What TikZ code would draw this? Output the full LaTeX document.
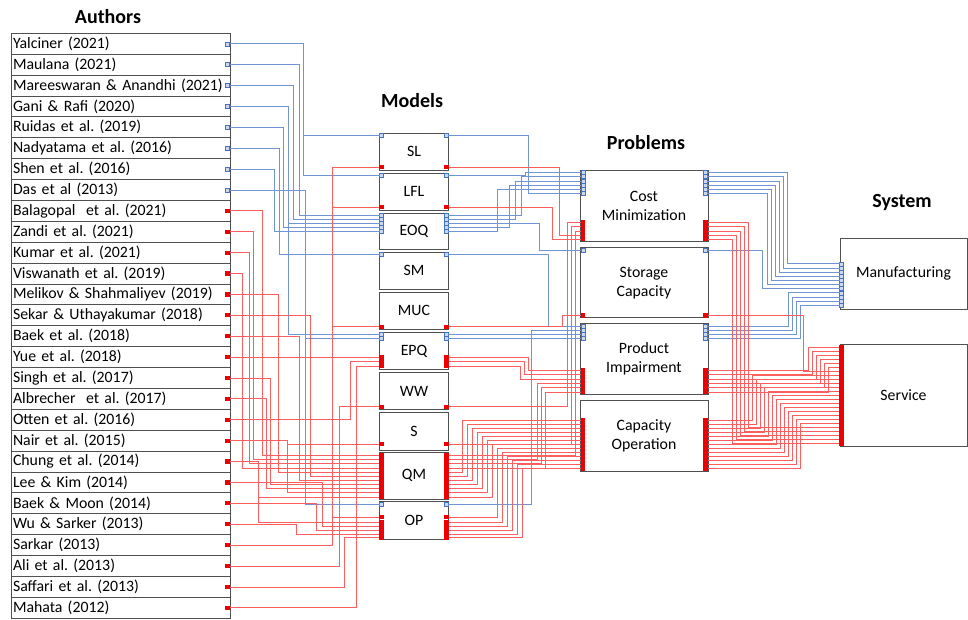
\documentclass[tikz,border=0pt]{standalone}
\usepackage{fontspec}
\setmainfont{Carlito}
\frenchspacing
\definecolor{boxline}{HTML}{505050}
\definecolor{bluewire}{HTML}{7095D4}
\definecolor{redwire}{HTML}{FF5E5E}
\definecolor{blueport}{HTML}{4472C4}
\definecolor{bluefill}{HTML}{C9D7F0}
\definecolor{redport}{HTML}{EE0000}
\tikzset{
  every node/.style={font=\fontsize{15.8}{19}\selectfont},
  heading/.style={font=\fontsize{20}{24}\selectfont\bfseries},
  authrow/.style={draw=boxline, line width=0.9pt, minimum height=20.89pt,
    text width=215pt, inner xsep=2pt, inner ysep=0pt, align=left},
  modelbox/.style={draw=boxline, line width=1pt, fill=white,
    minimum width=69.4pt, inner sep=0pt},
  probbox/.style={draw=boxline, line width=1pt, minimum width=128pt,
    minimum height=71pt, align=center, inner sep=0pt},
  sysbox/.style={draw=boxline, line width=1pt, minimum width=127pt, inner sep=0pt},
  bport/.style={draw=blueport, fill=bluefill, line width=0.5pt,
    minimum size=4pt, inner sep=0pt, outer sep=0pt},
  rport/.style={fill=redport, minimum width=4.6pt, minimum height=4.3pt,
    inner sep=0pt, outer sep=0pt},
  bw/.style={draw=bluewire, line width=0.8pt},
  rw/.style={draw=redwire, line width=0.8pt},
}
% orthogonal connector: start, vertical channel x, end
\newcommand\wireto[4]{\draw[#1] (#2) -| (#3,0 |- #4) -- (#4);}
% a pair of ports on the left and right edge of a model box
\newcommand\mpair[3]{\node[#1] (#2L) at (381.7,#3) {}; \node[#1] (#2R) at (446.3,#3) {};}
% a pair of ports on the left and right edge of a problem box
\newcommand\ppair[3]{\node[#1] (#2L) at (582.8,#3) {}; \node[#1] (#2R) at (705.3,#3) {};}

\begin{document}
\begin{tikzpicture}[x=1pt,y=-1pt]
\useasboundingbox (0,0) rectangle (968,619);

% headings
\node[heading] (hAuth) at (108,17) {Authors};
\node[heading] (hMod) at (412,101) {Models};
\node[heading] (hProb) at (646,143) {Problems};
\node[heading] (hSys) at (902,203) {System};

% authors column
\foreach \nm [count=\k from 0] in {Yalciner (2021), Maulana (2021),
  Mareeswaran \& Anandhi (2021), Gani \& Rafi (2020), Ruidas et al. (2019),
  Nadyatama et al. (2016), Shen et al. (2016), Das et al (2013),
  Balagopal~ et al. (2021), Zandi et al. (2021), Kumar et al. (2021),
  Viswanath et al. (2019), Melikov \& Shahmaliyev (2019),
  Sekar \& Uthayakumar (2018), Baek et al. (2018), Yue et al. (2018),
  Singh et al. (2017), Albrecher~ et al. (2017), Otten et al. (2016),
  Nair et al. (2015), Chung et al. (2014), Lee \& Kim (2014),
  Baek \& Moon (2014), Wu \& Sarker (2013), Sarkar (2013), Ali et al. (2013),
  Saffari et al. (2013), Mahata (2012)}{
  \pgfmathsetmacro\yc{43.75+20.89*\k}
  \node[authrow] (auth\k) at (120.5,\yc) {\nm};
  \ifnum\k<8
    \node[bport] (ap\k) at (227.5,\yc) {};
  \else
    \node[rport] (ap\k) at (227.5,\yc) {};
  \fi
}

% models
\foreach \nm/\yc/\h in {SL/151.5/37, LFL/191.5/37, EOQ/231/36, SM/270.5/37,
  MUC/310.5/37, EPQ/351.1/36.8, WW/391.3/37.3, S/431/38, QM/475.5/47, OP/520.8/38.3}
  \node[modelbox, minimum height=\h pt] (\nm) at (414,\yc) {\nm};

\mpair{bport}{SLb}{135} \mpair{rport}{SLr}{167.3}
\mpair{bport}{LFLb}{175} \mpair{rport}{LFLr}{207}
\foreach \i in {1,...,5} {\mpair{bport}{EOQb\i}{211+4*\i}}
\mpair{bport}{SMb}{254}
\mpair{rport}{MUCr}{326.7}
\mpair{bport}{EPQb1}{334.3} \mpair{bport}{EPQb2}{338.3}
\foreach \i in {1,2,3} {\mpair{rport}{EPQr\i}{353+4.3*\i}}
\mpair{rport}{WWr}{406.7}
\mpair{rport}{Sr}{444.3}
\foreach \i in {1,...,11} {\mpair{rport}{QMr\i}{451.35+4.15*\i}}
\mpair{bport}{OPb}{504.5}
\foreach \i/\y in {1/517.3,2/522.5,3/526.3,4/530.1,5/533.9,6/537.7} {\mpair{rport}{OPr\i}{\y}}

% problems
\node[probbox] (CM) at (644,206.2) {Cost\\Minimization};
\node[probbox, minimum height=70.3pt] (SC) at (644,282.8) {Storage\\Capacity};
\node[probbox] (PI) at (644,358.5) {Product\\Impairment};
\node[probbox] (CO) at (644,435.5) {Capacity\\Operation};

\foreach \i in {1,...,6} {\ppair{bport}{CMb\i}{168.3+4.2*\i}}
\foreach \i in {1,...,5} {\ppair{rport}{CMr\i}{218.3+4.2*\i}}
\ppair{bport}{SCb}{250.5} \ppair{rport}{SCr}{315.5}
\foreach \i in {1,...,4} {\ppair{bport}{PIb\i}{322+4*\i}}
\foreach \i in {1,...,6} {\ppair{rport}{PIr\i}{366.2+4.3*\i}}
\foreach \i in {1,...,13} {\ppair{rport}{COr\i}{416+4.05*\i}}

% systems
\node[sysbox, minimum height=71pt] (MF) at (903.5,273.5) {Manufacturing};
\node[sysbox, minimum height=102pt] (SV) at (903.5,395) {Service};
\foreach \j in {1,...,11} \node[bport] (MFp\j) at (841.5,{259.65+4.15*\j}) {};
\foreach \j in {1,...,25} \node[rport] (SVp\j) at (841.5,{342.97+4.03*\j}) {};

% authors to models, manufacturing studies
\wireto{bw}{ap0}{303}{SLbL}
\wireto{bw}{ap0}{303}{LFLbL}
\wireto{bw}{ap1}{299}{EOQb1L}
\wireto{bw}{ap2}{293}{EOQb2L}
\wireto{bw}{ap3}{288}{EOQb3L}
\wireto{bw}{ap3}{288}{EPQb1L}
\wireto{bw}{ap4}{283}{EOQb4L}
\wireto{bw}{ap5}{279}{SMbL}
\wireto{bw}{ap6}{274}{EOQb5L}
\wireto{bw}{ap7}{305}{EPQb2L}
\wireto{bw}{ap7}{305}{OPbL}

% models to problems, manufacturing studies
\wireto{bw}{SLbR}{528}{CMb6L}
\wireto{bw}{LFLbR}{525}{CMb1L}
\wireto{bw}{EOQb1R}{521}{CMb2L}
\wireto{bw}{EOQb2R}{515}{CMb3L}
\wireto{bw}{EOQb4R}{509}{CMb4L}
\wireto{bw}{EOQb5R}{497}{CMb5L}
\wireto{bw}{EOQb3R}{539}{SCbL}
\wireto{bw}{SMbR}{548}{PIb1L}
\wireto{bw}{OPbR}{531}{PIb2L}
\wireto{bw}{EPQb1R}{470}{PIb3L}
\wireto{bw}{EPQb2R}{475}{PIb4L}

% problems to manufacturing
\foreach \i/\cx in {1/787,2/783,3/779,4/775,5/771,6/767} {\wireto{bw}{CMb\i R}{\cx}{MFp\i}}
\wireto{bw}{SCbR}{762}{MFp7}
\foreach \i/\cx in {1/788,2/792,3/796,4/800} {\pgfmathtruncatemacro\mj{\i+7}\wireto{bw}{PIb\i R}{\cx}{MFp\mj}}

% authors to models, service studies
\wireto{rw}{ap8}{262}{QMr1L}
\wireto{rw}{ap9}{253}{QMr2L}
\wireto{rw}{ap10}{249}{QMr3L}
\wireto{rw}{ap11}{242}{QMr4L}
\wireto{rw}{ap12}{278}{QMr5L}
\wireto{rw}{ap13}{310}{QMr6L}
\wireto{rw}{ap14}{299}{QMr7L}
\wireto{rw}{ap15}{315}{EPQr1L}
\wireto{rw}{ap16}{270}{QMr8L}
\wireto{rw}{ap17}{266}{QMr9L}
\wireto{rw}{ap18}{350}{EPQr2L}
\wireto{rw}{ap19}{287}{SrL}
\wireto{rw}{ap19}{287}{QMr10L}
\wireto{rw}{ap20}{258}{QMr11L}
\wireto{rw}{ap20}{258}{OPr2L}
\wireto{rw}{ap21}{322}{OPr3L}
\wireto{rw}{ap22}{316}{OPr4L}
\wireto{rw}{ap23}{296}{OPr5L}
\wireto{rw}{ap24}{332}{SLrL}
\wireto{rw}{ap24}{332}{LFLrL}
\wireto{rw}{ap24}{332}{MUCrL}
\wireto{rw}{ap24}{332}{OPr1L}
\wireto{rw}{ap25}{339}{WWrL}
\wireto{rw}{ap26}{344}{OPr6L}
\wireto{rw}{ap27}{356}{EPQr3L}

% models to problems, service studies
\wireto{rw}{SLrR}{559}{CMr4L}
\wireto{rw}{LFLrR}{552}{CMr5L}
\wireto{rw}{WWrR}{567}{CMr1L}
\wireto{rw}{SrR}{571}{CMr2L}
\wireto{rw}{QMr1R}{575}{CMr3L}
\wireto{rw}{MUCrR}{562}{SCrL}
\wireto{rw}{EPQr1R}{528}{PIr1L}
\wireto{rw}{EPQr2R}{524}{PIr2L}
\wireto{rw}{EPQr3R}{520}{PIr3L}
\wireto{rw}{QMr2R}{537}{PIr4L}
\wireto{rw}{QMr3R}{541}{PIr5L}
\wireto{rw}{QMr4R}{545}{PIr6L}
\foreach \i in {1,...,7} {\pgfmathtruncatemacro\qi{\i+4}\pgfmathsetmacro\cx{457+5*\i}\wireto{rw}{QMr\qi R}{\cx}{COr\i L}}
\foreach \i in {1,...,6} {\pgfmathtruncatemacro\oi{\i+7}\pgfmathsetmacro\cx{492+5*\i}\wireto{rw}{OPr\i R}{\cx}{COr\oi L}}

% problems to service
\foreach \i in {1,...,6} {\pgfmathsetmacro\cx{804+4*\i}\wireto{rw}{PIr\i R}{\cx}{SVp\i}}
\wireto{rw}{SCrR}{803}{SVp7}
\foreach \i in {1,...,13} {\pgfmathtruncatemacro\sv{\i+7}\pgfmathsetmacro\cx{748+4*\i}\wireto{rw}{COr\i R}{\cx}{SVp\sv}}
\foreach \i in {1,...,5} {\pgfmathtruncatemacro\sv{\i+20}\pgfmathsetmacro\cx{752-4*\i}\wireto{rw}{CMr\i R}{\cx}{SVp\sv}}

\end{tikzpicture}
\end{document}
